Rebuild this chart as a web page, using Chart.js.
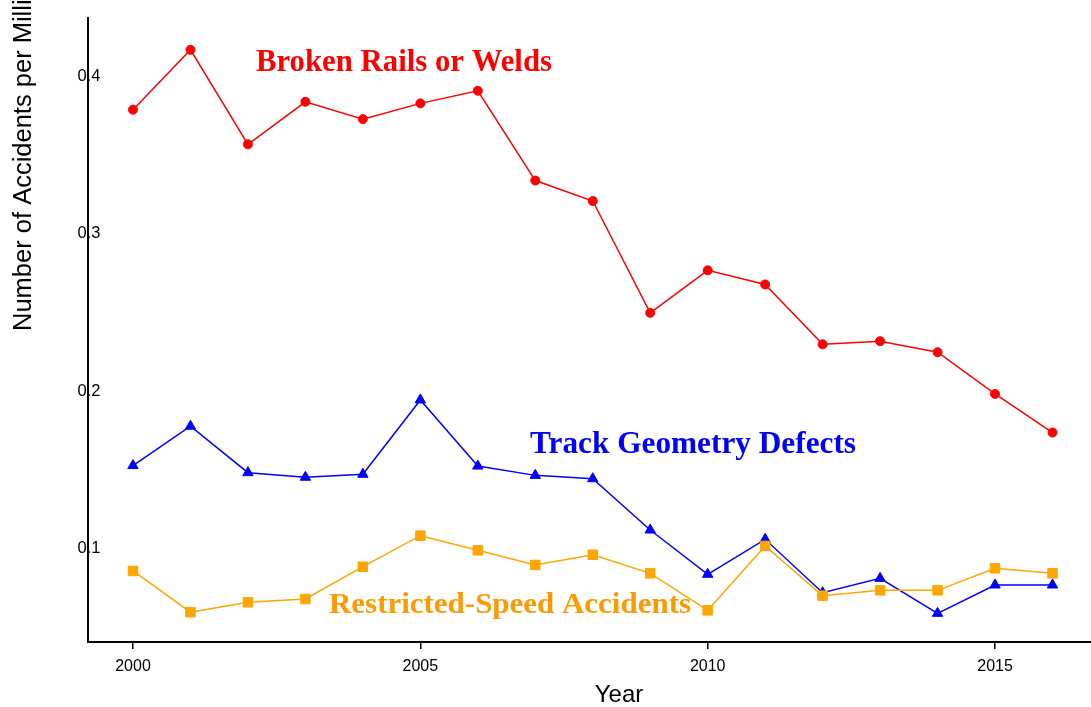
<!DOCTYPE html>
<html>
<head>
<meta charset="utf-8">
<script src="https://cdn.jsdelivr.net/npm/chart.js@4/dist/chart.umd.min.js"></script>
<style>
  html, body { margin: 0; padding: 0; background: #ffffff; }
  #wrap { width: 1091px; height: 707px; }
</style>
</head>
<body>
<div id="wrap"><canvas id="c" width="1091" height="707"></canvas></div>
<script>
const years = [2000, 2001, 2002, 2003, 2004, 2005, 2006, 2007, 2008, 2009, 2010, 2011, 2012, 2013, 2014, 2015, 2016];
const brokenRails = [0.378, 0.416, 0.356, 0.383, 0.372, 0.382, 0.390, 0.333, 0.320, 0.249, 0.276, 0.267, 0.229, 0.231, 0.224, 0.1975, 0.173];
const trackGeometry = [0.152, 0.177, 0.1475, 0.1446, 0.1465, 0.1937, 0.1517, 0.1458, 0.1437, 0.1111, 0.0830, 0.1052, 0.0713, 0.0804, 0.0582, 0.0762, 0.0762];
const restrictedSpeed = [0.0851, 0.0589, 0.0652, 0.0673, 0.0878, 0.1075, 0.0982, 0.0889, 0.0954, 0.0836, 0.0601, 0.1010, 0.0694, 0.0728, 0.0728, 0.0868, 0.0836];
const xTickValues = [2000, 2005, 2010, 2015];
const yTickValues = [0.1, 0.2, 0.3, 0.4];
const yTickLabels = ['0.1', '0.2', '0.3', '0.4'];
const seriesLabels = ['Broken Rails or Welds', 'Track Geometry Defects', 'Restricted-Speed Accidents'];
const xTitle = 'Year';
const yTitle = 'Number of Accidents per Million Train-Miles';

const toPoints = arr => years.map((yr, i) => ({ x: yr, y: arr[i] }));

const annotationPlugin = {
  id: 'annotations',
  afterDraw(chart) {
    const ctx = chart.ctx;
    const yScale = chart.scales.y;

    // y tick labels, centred on the axis line
    ctx.save();
    ctx.font = '16.5px "Liberation Sans", Arial, sans-serif';
    ctx.fillStyle = '#000000';
    ctx.textAlign = 'center';
    ctx.textBaseline = 'middle';
    yTickValues.forEach((v, i) => {
      ctx.fillText(yTickLabels[i], yScale.right + 1, yScale.getPixelForValue(v) + 1);
    });
    ctx.restore();

    const labels = [
      { text: seriesLabels[0], color: '#FF0000', size: 32, left: 256, width: 296, base: 71 },
      { text: seriesLabels[1], color: '#0000FF', size: 32, left: 530, width: 326, base: 453 },
      { text: seriesLabels[2], color: '#FF9900', size: 29, left: 329, width: 362, base: 613 }
    ];
    labels.forEach(l => {
      ctx.save();
      ctx.font = 'bold ' + l.size + 'px "Liberation Serif", "Times New Roman", serif';
      ctx.fillStyle = l.color;
      ctx.textBaseline = 'alphabetic';
      ctx.textAlign = 'left';
      const w = ctx.measureText(l.text).width;
      const sx = l.width / w;
      ctx.translate(l.left, l.base);
      ctx.scale(sx, 1);
      ctx.fillText(l.text, 0, 0);
      ctx.restore();
    });

    // axis titles
    ctx.save();
    ctx.font = '24px "Liberation Sans", Arial, sans-serif';
    ctx.fillStyle = '#000000';
    ctx.textAlign = 'center';
    ctx.textBaseline = 'alphabetic';
    ctx.fillText(xTitle, 619, 702);
    ctx.restore();

    ctx.save();
    ctx.font = '25.5px "Liberation Sans", Arial, sans-serif';
    ctx.fillStyle = '#000000';
    ctx.translate(31, 331);
    ctx.rotate(-Math.PI / 2);
    ctx.textAlign = 'left';
    ctx.textBaseline = 'alphabetic';
    ctx.fillText(yTitle, 0, 0);
    ctx.restore();
  }
};

new Chart(document.getElementById('c'), {
  type: 'line',
  data: {
    datasets: [
      {
        label: seriesLabels[0],
        data: toPoints(brokenRails),
        borderColor: '#FF0000',
        backgroundColor: '#FF0000',
        borderWidth: 1.5,
        pointStyle: 'circle',
        pointRadius: 4.5,
        pointBorderWidth: 1,
        order: 3
      },
      {
        label: seriesLabels[1],
        data: toPoints(trackGeometry),
        borderColor: '#0000FF',
        backgroundColor: '#0000FF',
        borderWidth: 1.5,
        pointStyle: 'triangle',
        pointRadius: 6,
        pointBorderWidth: 1,
        order: 2
      },
      {
        label: seriesLabels[2],
        data: toPoints(restrictedSpeed),
        borderColor: '#FFA500',
        backgroundColor: '#FFA500',
        borderWidth: 1.5,
        pointStyle: 'rect',
        pointRadius: 6.7,
        pointBorderWidth: 1,
        order: 1
      }
    ]
  },
  options: {
    responsive: false,
    animation: false,
    layout: { autoPadding: false, padding: { top: 18, right: 0, left: 0, bottom: 0 } },
    plugins: {
      legend: { display: false },
      tooltip: { enabled: false },
      title: { display: false }
    },
    elements: { line: { tension: 0 } },
    scales: {
      x: {
        type: 'linear',
        min: 1999.217,
        max: 2016.67,
        afterFit: s => { s.height = 65; s.paddingRight = 0; s.paddingLeft = 0; },
        afterBuildTicks: s => { s.ticks = xTickValues.map(v => ({ value: v })); },
        grid: { display: true, drawOnChartArea: false, drawTicks: true, tickLength: 7, color: '#000000', lineWidth: 1.5 },
        border: { display: true, color: '#000000', width: 2 },
        ticks: {
          color: '#000000',
          font: { family: '"Liberation Sans", Arial, sans-serif', size: 16 },
          padding: 8,
          maxRotation: 0,
          callback: v => String(v)
        }
      },
      y: {
        type: 'linear',
        min: 0.04,
        max: 0.4362,
        afterFit: s => { s.width = 88; s.paddingTop = 0; s.paddingBottom = 0; },
        afterBuildTicks: s => { s.ticks = yTickValues.map(v => ({ value: v })); },
        grid: { display: false, drawTicks: false },
        border: { display: true, color: '#000000', width: 2 },
        ticks: { display: false }
      }
    }
  },
  plugins: [annotationPlugin]
});
</script>
</body>
</html>
